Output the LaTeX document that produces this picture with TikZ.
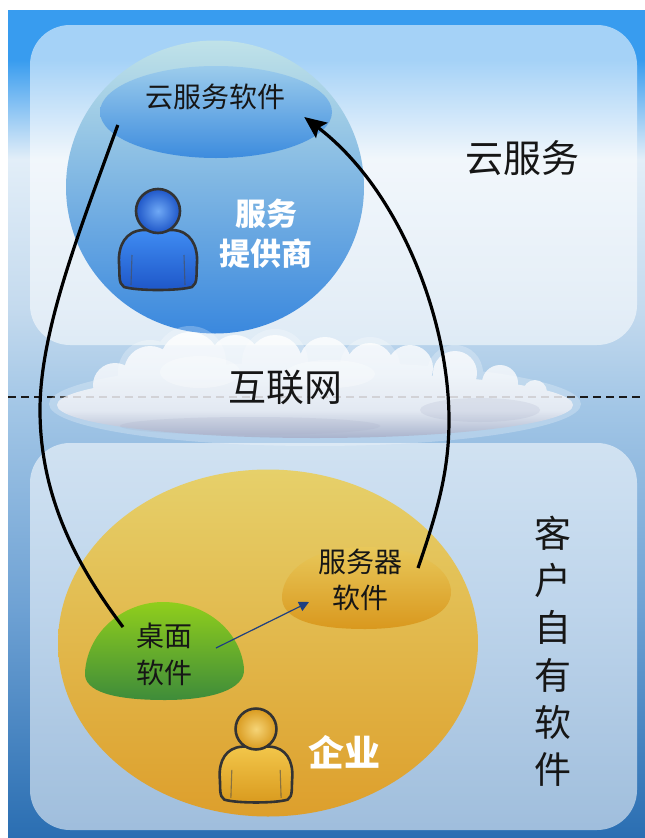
\documentclass[tikz,border=0pt]{standalone}
\usepackage{fontspec}
\newfontfamily\cjk{Noto Sans CJK SC}
\usepackage{xcolor}
\usetikzlibrary{arrows.meta, shapes.geometric, positioning}

\definecolor{ink}{HTML}{161616}
\definecolor{skyTop}{HTML}{389CEF}
\definecolor{skyPale}{HTML}{E2EEF8}
\definecolor{skySoft}{HTML}{C4DAEE}
\definecolor{skyMid}{HTML}{A2C6E6}
\definecolor{skyLow}{HTML}{6FA2D4}
\definecolor{skyBot}{HTML}{2A6EB2}
\definecolor{provTop}{HTML}{C0E2E8}
\definecolor{provMid}{HTML}{5EA6E8}
\definecolor{provBot}{HTML}{3A88DE}
\definecolor{capTop}{HTML}{9CCCEC}
\definecolor{capBot}{HTML}{3D8CDE}
\definecolor{entTop}{HTML}{E6D06A}
\definecolor{entMid}{HTML}{E4B84A}
\definecolor{entBot}{HTML}{DD9F2C}
\definecolor{deskTop}{HTML}{90CE1C}
\definecolor{deskBot}{HTML}{3E8C3A}
\definecolor{srvTop}{HTML}{E8C85A}
\definecolor{srvBot}{HTML}{D9981E}
\definecolor{cloudLow}{HTML}{A6ACC6}
\definecolor{arrowBlue}{HTML}{1F3F80}
\definecolor{manBlueTop}{HTML}{3F8CF2}
\definecolor{manBlueBot}{HTML}{1E56C8}
\definecolor{manGoldTop}{HTML}{F2C64A}
\definecolor{manGoldBot}{HTML}{D99A1E}

\pgfdeclareverticalshading{skybg}{100bp}{color(0bp)=(skyBot); color(25bp)=(skyBot);
  color(39bp)=(skyLow); color(51bp)=(skyMid); color(57bp)=(skySoft);
  color(66bp)=(skyPale); color(72bp)=(skyTop); color(100bp)=(skyTop)}
\pgfdeclareverticalshading{cloudbg}{100bp}{color(0bp)=(cloudLow); color(25bp)=(cloudLow);
  color(38bp)=(white!80!cloudLow); color(55bp)=(white!95!cloudLow); color(75bp)=(white); color(100bp)=(white)}

\begin{document}
\begin{tikzpicture}[x=1pt, y=-1pt,
    every node/.style={inner sep=0pt, text=ink},
    box/.style={rounded corners=40pt, fill=white, fill opacity=0.55},
    zhsmall/.style={font=\cjk\fontsize{28}{37}\selectfont, align=center},
    zhbig/.style={font=\cjk\fontsize{38}{46}\selectfont},
    zhbold/.style={font=\cjk\bfseries\fontsize{31}{40}\selectfont, text=white, align=center},
    bigline/.style={line width=3.2pt, draw=black},
    pics/person/.style 2 args={code={
        \draw[line width=2.6pt, draw=black!80, top color=#1, bottom color=#2]
          (-15,19) .. controls (-32,20) and (-40,34) .. (-39,52)
          .. controls (-38,64) and (-40,72) .. (-34,76)
          .. controls (-20,80) and (20,80) .. (34,76)
          .. controls (40,72) and (38,64) .. (39,52)
          .. controls (40,34) and (32,20) .. (15,19) -- cycle;
        \draw[line width=1.1pt, draw=black!70, opacity=0.6] (-26,44) -- (-27,74) (26,44) -- (27,74);
        \draw[line width=2.6pt, draw=black!80, inner color=#1!75!white, outer color=#2]
          (0,0) circle [radius=22];
    }}]
    \useasboundingbox (0,0) rectangle (645,838);
    \fill[white] (0,0) rectangle (645,838);
    \shade[shading=skybg] (8,10) rectangle (645,838);

    % the two zones
    \fill[box] (30,25) rectangle (637,345);
    \fill[box] (30,443) rectangle (637,830);

    % border between the zones
    \draw[line width=1.8pt, draw=black!90, dash pattern=on 8pt off 5pt] (8,397) -- (645,397);

    % service provider
    \node[ellipse, minimum width=298, minimum height=293, top color=provTop, middle color=provMid, bottom color=provBot] (provider) at (215,187) {};
    \begin{scope}
        \clip (215,187) ellipse [x radius=149, y radius=146.5];
        \node[ellipse, minimum width=232, minimum height=92, top color=capTop, bottom color=capBot] (cap) at (216,112) {};
    \end{scope}
    \node[zhsmall] (saas) at (215,97) {云服务软件};
    \pic at (158,211) {person={manBlueTop}{manBlueBot}};
    \node[zhbold] (vendor) at (266,234) {服务\\提供商};
    \node[zhbig] (cloudsvc) at (522,158) {云服务};

    % enterprise
    \node[ellipse, minimum width=420, minimum height=347, top color=entTop, middle color=entMid, bottom color=entBot] (enterprise) at (268,643) {};
    \shade[top color=deskTop, bottom color=deskBot]
        (85,672) .. controls (88,630) and (125,602) .. (163,602)
        .. controls (205,602) and (240,630) .. (244,668)
        .. controls (246,690) and (210,700) .. (165,700)
        .. controls (115,700) and (83,692) .. (85,672) -- cycle;
    \shade[top color=srvTop, bottom color=srvBot]
        (282,595) .. controls (285,565) and (320,547) .. (365,547)
        .. controls (415,547) and (448,565) .. (451,590)
        .. controls (453,618) and (410,629) .. (365,629)
        .. controls (315,629) and (280,620) .. (282,595) -- cycle;
    \node[zhsmall] (desk) at (164,654) {桌面\\软件};
    \node[zhsmall, font=\cjk\fontsize{28}{36}\selectfont] (srv) at (360,580) {服务器\\软件};
    \pic[scale=0.93] at (256,729) {person={manGoldTop}{manGoldBot}};
    \node[zhbold, font=\cjk\bfseries\fontsize{36}{40}\selectfont] (ent) at (344,752) {企业};
    \foreach \i/\c in {0/客,1/户,2/自,3/有,4/软,5/件} {
        \node[font=\cjk\fontsize{37}{40}\selectfont] (own\i) at (553,533+47.4*\i) {\c};
    }

    % internet cloud: soft halo, then the puffs
    \fill[white, opacity=0.25]
        (315,404) ellipse [x radius=266, y radius=42]
        (150,372) circle [radius=32] (190,362) circle [radius=36]
        (275,362) circle [radius=33] (370,367) circle [radius=30]
        (455,373) circle [radius=28];
    \shade[shading=cloudbg, opacity=0.8]
        (315,405) ellipse [x radius=258, y radius=33]
        (115,385) circle [radius=22] (150,372) circle [radius=26]
        (190,362) circle [radius=30] (235,360) circle [radius=25]
        (275,362) circle [radius=27] (325,363) circle [radius=26]
        (370,367) circle [radius=24] (410,368) circle [radius=23]
        (455,373) circle [radius=22] (500,383) circle [radius=18]
        (535,392) circle [radius=12];
    \fill[cloudLow, opacity=0.2] (250,426) ellipse [x radius=130, y radius=9]
        (480,410) ellipse [x radius=60, y radius=12];
    \fill[white, opacity=0.3] (200,372) ellipse [x radius=40, y radius=16]
        (330,374) ellipse [x radius=45, y radius=14];
    \node[zhbig] (inet) at (285,388) {互联网};

    % connectors
    \draw[bigline] ([shift={(18,13)}]cap.west) .. controls (80,230) and (40,330) .. (40,410)
        .. controls (40,500) and (80,570) .. ([shift={(-41,-27)}]desk.center);
    \draw[bigline, -{Stealth[length=22pt, width=19pt, inset=4pt]}]
        ([shift={(58,-12)}]srv.center) .. controls (438,510) and (449,470) .. (449,420)
        .. controls (449,320) and (400,190) .. ([shift={(-28,5)}]cap.east);
    \draw[line width=1.2pt, draw=arrowBlue, -{Triangle[length=10pt, width=10pt]}]
        ([shift={(52,-6)}]desk.center) -- ([shift={(-51,22)}]srv.center);
\end{tikzpicture}
\end{document}
